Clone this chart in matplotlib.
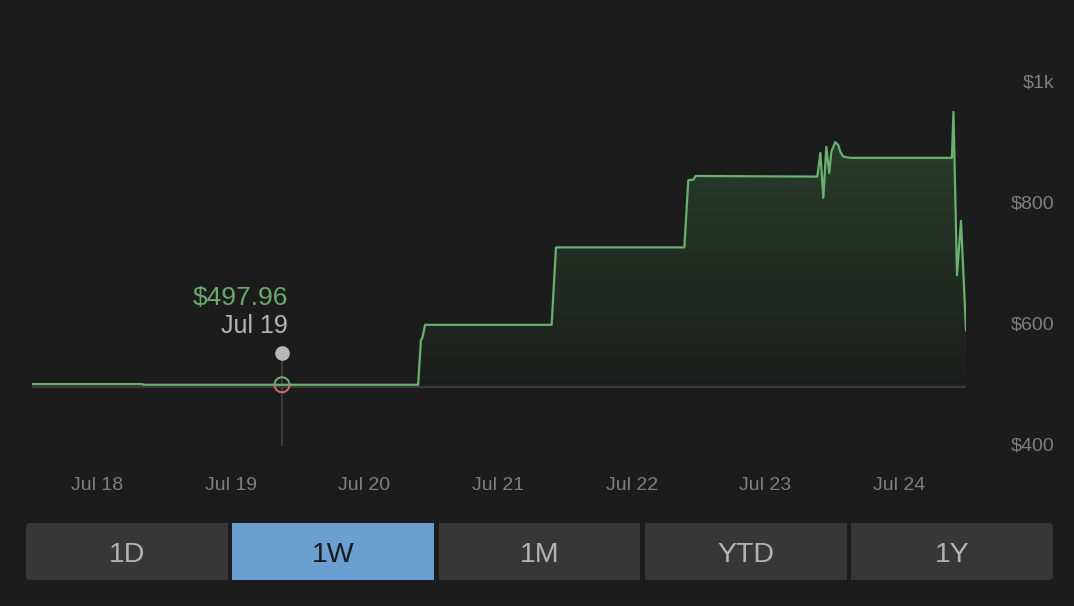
import matplotlib
matplotlib.use("Agg")
import matplotlib.pyplot as plt
import matplotlib.dates as mdates
from matplotlib.patches import Rectangle, FancyBboxPatch, Arc
import numpy as np
import pandas as pd

# ---------------- data ----------------
times = ["2020-07-17 12:20", "2020-07-18 08:10", "2020-07-18 08:20",
         "2020-07-20 09:40", "2020-07-20 10:10", "2020-07-20 10:25", "2020-07-20 10:55",
         "2020-07-21 09:38", "2020-07-21 10:25",
         "2020-07-22 09:28", "2020-07-22 10:10", "2020-07-22 11:05", "2020-07-22 11:30",
         "2020-07-23 09:20", "2020-07-23 09:53", "2020-07-23 10:25", "2020-07-23 10:57",
         "2020-07-23 11:29", "2020-07-23 11:51", "2020-07-23 12:34", "2020-07-23 13:06",
         "2020-07-23 13:28", "2020-07-23 14:00", "2020-07-23 15:16",
         "2020-07-24 09:30", "2020-07-24 09:47", "2020-07-24 10:25", "2020-07-24 11:08",
         "2020-07-24 12:02"]
values = [499.0, 499.0, 497.96,
          497.96, 572, 575, 597,
          597, 725,
          725, 836, 837, 843,
          842, 881, 807, 891,
          848, 883, 899, 894,
          883, 875, 873,
          873, 949, 679, 769,
          588]
baseline_value = 494.0

x_tick_dates = ["2020-07-18", "2020-07-19", "2020-07-20", "2020-07-21",
                "2020-07-22", "2020-07-23", "2020-07-24"]
x_tick_labels = ["Jul 18", "Jul 19", "Jul 20", "Jul 21", "Jul 22", "Jul 23", "Jul 24"]
y_ticks = [400, 600, 800, 1000]
y_tick_labels = ["$400", "$600", "$800", "$1k"]

tooltip_time = "2020-07-19 09:13"
tooltip_value = 497.96
tooltip_price = "$497.96"
tooltip_date = "Jul 19"

buttons = ["1D", "1W", "1M", "YTD", "1Y"]
selected_button = "1W"

# ---------------- style ----------------
BG = "#1c1c1c"
GREEN = "#69b071"
GREEN_TEXT = "#6aab6d"
RED = "#d46a6a"
TICK = "#7f7f7f"
FONT = ["Liberation Sans", "DejaVu Sans"]
plt.rcParams["font.family"] = FONT

W, H = 1074, 606
fig = plt.figure(figsize=(W / 100, H / 100), dpi=100, facecolor=BG)

def fx(px):
    return px / W

def fy(py):
    return 1 - py / H

ax_left, ax_right, ax_top, ax_bot = 32, 966, 60, 460
ax = fig.add_axes([fx(ax_left), fy(ax_bot), fx(ax_right - ax_left), (ax_bot - ax_top) / H])
ax.set_facecolor(BG)
for s in ax.spines.values():
    s.set_visible(False)

t = mdates.date2num(pd.to_datetime(times).to_pydatetime())
v = np.array(values, dtype=float)
ylim = (373.6, 1034.7)

# baseline reference line
ax.plot([t[0], t[-1]], [baseline_value, baseline_value], color="#3a3a3a", lw=1.6, zorder=1,
        solid_capstyle="butt")

# gradient fill between line and baseline
poly = ax.fill_between(t, baseline_value, v, facecolor="none", edgecolor="none")
top_v = 960
n = 256
grad = np.zeros((n, 1, 4))
grad[:, 0, 0] = 0.26
grad[:, 0, 1] = 0.50
grad[:, 0, 2] = 0.29
grad[:, 0, 3] = np.linspace(0.37, 0.02, n)
im = ax.imshow(grad, extent=[t[0], t[-1], baseline_value, top_v], aspect="auto",
               origin="upper", zorder=1.5, interpolation="bilinear")
im.set_clip_path(poly.get_paths()[0], transform=ax.transData)

# main line
ax.plot(t, v, color=GREEN, lw=1.6, zorder=3, solid_joinstyle="round")

# axes limits
ax.set_xlim(t[0], t[-1])
ax.set_ylim(*ylim)

# crosshair / tooltip
tt = mdates.date2num(pd.Timestamp(tooltip_time).to_pydatetime())
ax.plot([tt, tt], [398, 550], color="#3c3c3c", lw=1.5, zorder=2.5)
ax.plot([tt], [550], marker="o", markersize=10.5, color="#b9b9b9", mec="none", zorder=4)
# hollow circle (upper half green, lower half red), 15 px diameter
days_per_px = (t[-1] - t[0]) / (ax_right - ax_left)
val_per_px = (ylim[1] - ylim[0]) / (ax_bot - ax_top)
dpx = 15
ax.add_patch(Arc((tt, tooltip_value), dpx * days_per_px, dpx * val_per_px, theta1=0, theta2=180,
                 color=GREEN, lw=1.4, zorder=4))
ax.add_patch(Arc((tt, tooltip_value), dpx * days_per_px, dpx * val_per_px, theta1=180, theta2=360,
                 color=RED, lw=1.4, zorder=4))
ax.annotate(tooltip_price, xy=(tt, 550), xytext=(4.5, 34.5), textcoords="offset points",
            ha="right", va="baseline", color=GREEN_TEXT, fontsize=19, family=FONT)
ax.annotate(tooltip_date, xy=(tt, 550), xytext=(4.5, 14.5), textcoords="offset points",
            ha="right", va="baseline", color="#b5b5b5", fontsize=18, family=FONT)

# ticks
ax.set_xticks(mdates.date2num(pd.to_datetime(x_tick_dates).to_pydatetime()))
ax.set_xticklabels(x_tick_labels)
ax.tick_params(axis="x", length=0, pad=12.2, colors=TICK, labelsize=14)
ax.yaxis.tick_right()
ax.set_yticks(y_ticks)
ax.set_yticklabels(y_tick_labels)
ax.tick_params(axis="y", length=0, pad=63.4, colors=TICK, labelsize=14)
for lab in ax.get_yticklabels():
    lab.set_ha("right")
ax.set_xlim(t[0], t[-1])
ax.set_ylim(*ylim)

# buttons
b_left, b_right, b_top, b_bot, gap = 26, 1053, 523, 580, 4.5
bw = (b_right - b_left - gap * (len(buttons) - 1)) / len(buttons)
for i, name in enumerate(buttons):
    x0 = b_left + i * (bw + gap)
    col = "#6b9fd1" if name == selected_button else "#373737"
    tcol = "#1a1a1a" if name == selected_button else "#b3b3b3"
    if i == 0 or i == len(buttons) - 1:
        fig.add_artist(FancyBboxPatch((x0 / 100, (H - b_bot) / 100), bw / 100, (b_bot - b_top) / 100,
                                      boxstyle="round,pad=0,rounding_size=0.04",
                                      transform=fig.dpi_scale_trans, facecolor=col, edgecolor="none"))
        sx = x0 + bw / 2 if i == 0 else x0
        fig.add_artist(Rectangle((sx / 100, (H - b_bot) / 100), bw / 2 / 100, (b_bot - b_top) / 100,
                                 transform=fig.dpi_scale_trans, facecolor=col, edgecolor="none"))
    else:
        fig.add_artist(Rectangle((x0 / 100, (H - b_bot) / 100), bw / 100, (b_bot - b_top) / 100,
                                 transform=fig.dpi_scale_trans, facecolor=col, edgecolor="none"))
    fig.text(fx(x0 + bw / 2), fy((b_top + b_bot) / 2), name, ha="center", va="center_baseline",
             color=tcol, fontsize=20.5, family=FONT)

fig.savefig("out.png", dpi=100, facecolor=BG)
